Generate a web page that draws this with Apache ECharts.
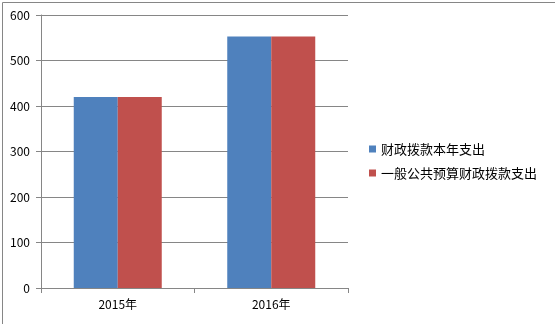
<!DOCTYPE html>
<html><head><meta charset="utf-8">
<script src="https://cdn.jsdelivr.net/npm/echarts@6/dist/echarts.min.js"></script>
<style>html,body{margin:0;padding:0;background:#fff}#c{width:555px;height:324px}</style>
</head><body><div id="c"></div>
<script>
var categories = ['2015年', '2016年'];
var seriesNames = ['财政拨款本年支出', '一般公共预算财政拨款支出'];
var seriesA = [420, 553];
var seriesB = [420, 553];
var yTicks = [0, 100, 200, 300, 400, 500, 600];

var font = '"Noto Sans CJK SC", "DejaVu Sans", sans-serif';
var chart = echarts.init(document.getElementById('c'));
chart.setOption({
  animation: false,
  color: ['#4F81BD', '#C0504D'],
  graphic: [{
    type: 'rect', left: 0, top: 0,
    shape: {x: 0.5, y: 0.5, width: 553, height: 322},
    style: {fill: 'none', stroke: '#868686', lineWidth: 1}
  }],
  grid: {left: 41, top: 15, right: 207, bottom: 36, containLabel: false},
  legend: {
    orient: 'vertical', left: 369, top: 142, padding: 0,
    icon: 'rect', itemWidth: 7, itemHeight: 7, itemGap: 10,
    textStyle: {fontFamily: font, fontSize: 13, color: '#000', lineHeight: 14},
    data: seriesNames
  },
  xAxis: {
    type: 'category', data: categories,
    axisLine: {lineStyle: {color: '#868686'}},
    axisTick: {show: true, length: 5, lineStyle: {color: '#868686'}},
    axisLabel: {fontFamily: font, fontSize: 12, color: '#000', margin: 10}
  },
  yAxis: {
    type: 'value', min: yTicks[0], max: yTicks[yTicks.length - 1], interval: 100,
    axisLine: {show: true, lineStyle: {color: '#868686'}},
    axisTick: {show: true, length: 5, lineStyle: {color: '#868686'}},
    axisLabel: {fontFamily: font, fontSize: 12, color: '#000', margin: 11},
    splitLine: {lineStyle: {color: '#868686'}}
  },
  series: [
    {name: seriesNames[0], type: 'bar', data: seriesA, barWidth: 44, barGap: '0%'},
    {name: seriesNames[1], type: 'bar', data: seriesB, barWidth: 44, barGap: '0%'}
  ]
});
</script></body></html>
